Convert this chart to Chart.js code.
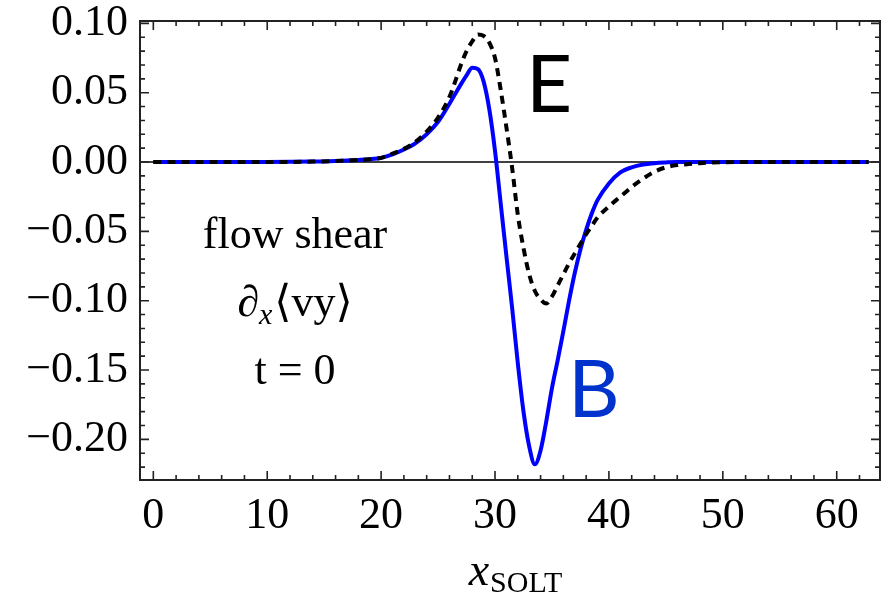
<!DOCTYPE html>
<html>
<head>
<meta charset="utf-8">
<script src="https://cdn.jsdelivr.net/npm/chart.js@4"></script>
<style>
  html, body { margin: 0; padding: 0; background: #fff; }
  #wrap { width: 886px; height: 603px; }
</style>
</head>
<body>
<div id="wrap"><canvas id="shear"></canvas></div>
<script>
// sample positions along x_SOLT
const xs = [0, 5, 10, 14, 16, 18, 19, 20, 21, 22, 23, 24, 25, 26, 26.5, 27, 27.5, 28, 28.5, 29, 29.5,
            30, 30.5, 31, 31.5, 32, 32.5, 33, 33.5, 34, 34.5, 35, 35.5, 36, 36.5, 37, 37.5, 38, 38.5,
            39, 40, 41, 42, 43, 44, 45, 46, 47, 48, 50, 52, 55, 60, 62.8];

// flow shear from the B profile (solid blue)
const shearB = [0, 0, 0, 0.0003, 0.0008, 0.0015, 0.002, 0.003, 0.0055, 0.009, 0.0135, 0.020, 0.029, 0.042, 0.049,
                0.056, 0.0625, 0.068, 0.067, 0.058, 0.038,
                0.008, -0.030, -0.068, -0.105, -0.145, -0.180, -0.205, -0.218, -0.208, -0.187, -0.163, -0.143,
                -0.122, -0.100, -0.080, -0.063, -0.049, -0.037,
                -0.0275, -0.0155, -0.0075, -0.0038, -0.0018, -0.0008, -0.0003, 0, 0, 0, 0, 0, 0, 0, 0];

// flow shear from the E profile (dashed black)
const shearE = [0, 0, 0, 0.0003, 0.0008, 0.0015, 0.002, 0.003, 0.006, 0.0095, 0.0145, 0.022, 0.032, 0.047, 0.058,
                0.070, 0.080, 0.087, 0.092, 0.091, 0.086,
                0.075, 0.052, 0.025, -0.004, -0.038, -0.062, -0.081, -0.093, -0.099, -0.102, -0.097, -0.089,
                -0.081, -0.073, -0.066, -0.059, -0.052, -0.046,
                -0.040, -0.032, -0.025, -0.018, -0.012, -0.007, -0.0038, -0.0022, -0.0015, -0.0008, -0.0002, 0, 0, 0, 0];

const xMajor = [0, 10, 20, 30, 40, 50, 60];
const yMajor = [0.10, 0.05, 0.00, -0.05, -0.10, -0.15, -0.20];

const SERIF = '"Liberation Serif", "DejaVu Serif", serif';

function toPoints(ys) {
    return xs.map((x, i) => ({ x: x, y: ys[i] }));
}

function fmtY(v) {
    const s = Math.abs(v).toFixed(2);
    return (v < -1e-9 ? '\u2212' : '') + s;
}

// frame with inward ticks on all four sides, zero line, and text annotations
const framePlugin = {
    id: 'framePlugin',
    beforeDatasetsDraw(chart) {
        const { ctx, chartArea: a, scales: { y } } = chart;
        const y0 = y.getPixelForValue(0);
        ctx.save();
        ctx.strokeStyle = '#000';
        ctx.lineWidth = 1.5;
        ctx.beginPath();
        ctx.moveTo(a.left, y0);
        ctx.lineTo(a.right, y0);
        ctx.stroke();
        ctx.restore();
    },
    afterDraw(chart) {
        const { ctx, chartArea: a, scales: { x, y } } = chart;
        ctx.save();
        ctx.strokeStyle = '#222';
        ctx.lineWidth = 1.6;
        ctx.beginPath();
        for (let v = 0; v <= 62; v += 2) {
            const px = x.getPixelForValue(v);
            const len = v % 10 === 0 ? 9 : 5;
            ctx.moveTo(px, a.bottom); ctx.lineTo(px, a.bottom - len);
            ctx.moveTo(px, a.top); ctx.lineTo(px, a.top + len);
        }
        for (let k = -22; k <= 10; k++) {
            const py = y.getPixelForValue(k / 100);
            const len = k % 5 === 0 ? 9 : 5;
            ctx.moveTo(a.left, py); ctx.lineTo(a.left + len, py);
            ctx.moveTo(a.right, py); ctx.lineTo(a.right - len, py);
        }
        ctx.stroke();
        ctx.lineWidth = 2;
        ctx.strokeRect(a.left, a.top, a.right - a.left, a.bottom - a.top);

        // axis title x_SOLT
        ctx.fillStyle = '#000';
        ctx.textBaseline = 'alphabetic';
        ctx.textAlign = 'left';
        ctx.font = 'italic 46px ' + SERIF;
        const xw = ctx.measureText('x').width;
        ctx.font = '30px ' + SERIF;
        const sw = ctx.measureText('SOLT').width;
        const tx = 515 - (xw + sw) / 2;
        ctx.font = 'italic 46px ' + SERIF;
        ctx.fillText('x', tx, 585);
        ctx.font = '30px ' + SERIF;
        ctx.fillText('SOLT', tx + xw + 1, 592);

        // annotation block
        const cx = 295;
        ctx.textAlign = 'center';
        ctx.font = '44px ' + SERIF;
        ctx.fillText('flow shear', cx, 248);
        ctx.fillText('t = 0', cx, 384);

        ctx.textAlign = 'left';
        ctx.font = 'italic 44px ' + SERIF;
        const dW = ctx.measureText('\u2202').width;
        ctx.font = 'italic 30px ' + SERIF;
        const subW = ctx.measureText('x').width;
        ctx.font = '44px ' + SERIF;
        const restW = ctx.measureText('\u27E8vy\u27E9').width;
        let sx = cx - (dW + subW + restW + 2) / 2;
        ctx.font = 'italic 44px ' + SERIF;
        ctx.fillText('\u2202', sx, 316);
        sx += dW;
        ctx.font = 'italic 30px ' + SERIF;
        ctx.fillText('x', sx, 324);
        sx += subW + 2;
        ctx.font = '44px ' + SERIF;
        ctx.fillText('\u27E8vy\u27E9', sx, 316);

        // curve labels
        ctx.font = '80px Lato, "Open Sans", sans-serif';
        ctx.fillStyle = '#000';
        ctx.fillText('E', 526, 112);
        ctx.fillStyle = '#0033cc';
        ctx.fillText('B', 568, 417);
        ctx.restore();
    }
};

new Chart(document.getElementById('shear'), {
    type: 'line',
    data: {
        datasets: [{
            label: 'B',
            data: toPoints(shearB),
            borderColor: '#0000ff',
            borderWidth: 4,
            pointRadius: 0,
            cubicInterpolationMode: 'monotone',
            order: 2,
        }, {
            label: 'E',
            data: toPoints(shearE),
            borderColor: '#000',
            borderWidth: 4,
            borderDash: [8, 6],
            pointRadius: 0,
            cubicInterpolationMode: 'monotone',
            order: 1,
        }],
    },
    options: {
        responsive: true,
        maintainAspectRatio: false,
        animation: false,
        layout: { padding: { top: 21, right: 6, left: 0, bottom: 0 } },
        plugins: {
            legend: { display: false },
            tooltip: { enabled: false },
        },
        scales: {
            x: {
                type: 'linear',
                min: -1.17,
                max: 63.8,
                grid: { display: false, drawTicks: false },
                border: { display: false },
                afterFit(scale) {
                    scale.height = 123;
                    scale.paddingLeft = 0;
                    scale.paddingRight = 0;
                },
                ticks: {
                    stepSize: 10,
                    includeBounds: false,
                    autoSkip: false,
                    maxRotation: 0,
                    padding: 10,
                    color: '#000',
                    font: { family: SERIF, size: 44 },
                    callback: (v) => xMajor.includes(v) ? String(v) : '',
                },
            },
            y: {
                type: 'linear',
                min: -0.2293,
                max: 0.1017,
                grid: { display: false, drawTicks: false },
                border: { display: false },
                afterFit(scale) {
                    scale.width = 140;
                    scale.paddingTop = 0;
                    scale.paddingBottom = 0;
                },
                ticks: {
                    stepSize: 0.05,
                    includeBounds: false,
                    autoSkip: false,
                    padding: 12,
                    color: '#000',
                    font: { family: SERIF, size: 44 },
                    callback: (v) => yMajor.some(m => Math.abs(m - v) < 1e-6) ? fmtY(v) : '',
                },
            },
        },
    },
    plugins: [framePlugin],
});
</script>
</body>
</html>
